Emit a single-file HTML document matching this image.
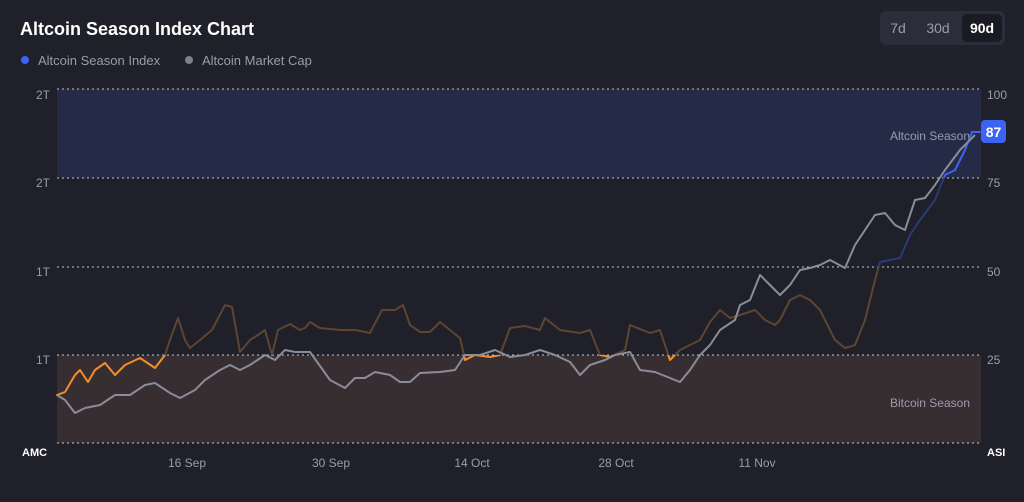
<!DOCTYPE html>
<html><head><meta charset="utf-8"><style>
body{margin:0;width:1024px;height:497px;background:#1f2029;font-family:"Liberation Sans",sans-serif;overflow:hidden}
</style></head><body>
<svg width="1024" height="497" xmlns="http://www.w3.org/2000/svg" font-family="Liberation Sans, sans-serif">
<rect width="1024" height="497" fill="#1f2029"/>
<text x="20" y="35" fill="#fff" font-size="18" font-weight="bold">Altcoin Season Index Chart</text>
<circle cx="25" cy="60" r="4" fill="#3d63f5"/>
<text x="38" y="65" fill="#9a9cac" font-size="13">Altcoin Season Index</text>
<circle cx="189" cy="60" r="4" fill="#7c7f90"/>
<text x="202" y="65" fill="#9a9cac" font-size="13">Altcoin Market Cap</text>
<rect x="880" y="11" width="125" height="34" rx="6" fill="#2b2d3a"/>
<rect x="962" y="14" width="40" height="28" rx="5" fill="#1a1b22"/>
<text x="898" y="33" fill="#9a9cac" font-size="14" text-anchor="middle">7d</text>
<text x="938" y="33" fill="#9a9cac" font-size="14" text-anchor="middle">30d</text>
<text x="982" y="33" fill="#fff" font-size="14" font-weight="bold" text-anchor="middle">90d</text>
<rect x="57" y="89" width="924" height="89" fill="#252a47"/>
<rect x="57" y="355" width="924" height="88" fill="#372e31"/>
<g stroke="#c8c8d0" stroke-dasharray="2 3" stroke-width="1">
<line x1="57" y1="89" x2="981" y2="89"/><line x1="57" y1="178" x2="981" y2="178"/>
<line x1="57" y1="267" x2="981" y2="267"/><line x1="57" y1="355" x2="981" y2="355"/>
<line x1="57" y1="443" x2="981" y2="443"/></g>
<g fill="#9a9cac" font-size="12">
<text x="50" y="99" text-anchor="end">2T</text><text x="50" y="187" text-anchor="end">2T</text>
<text x="50" y="276" text-anchor="end">1T</text><text x="50" y="364" text-anchor="end">1T</text>
<text x="987" y="99">100</text><text x="987" y="187">75</text><text x="987" y="276">50</text><text x="987" y="364">25</text>
<text x="187" y="467" text-anchor="middle">16 Sep</text><text x="331" y="467" text-anchor="middle">30 Sep</text>
<text x="472" y="467" text-anchor="middle">14 Oct</text><text x="616" y="467" text-anchor="middle">28 Oct</text>
<text x="757" y="467" text-anchor="middle">11 Nov</text>
<text x="970" y="140" text-anchor="end" font-size="12">Altcoin Season</text>
<text x="970" y="407" text-anchor="end" font-size="12">Bitcoin Season</text>
</g>
<text x="22" y="456" fill="#fff" font-size="11" font-weight="bold">AMC</text>
<text x="987" y="456" fill="#fff" font-size="11" font-weight="bold">ASI</text>
<defs>
<clipPath id="cLow"><rect x="0" y="355" width="1024" height="200"/></clipPath>
<clipPath id="cMid"><rect x="0" y="267" width="1024" height="88"/></clipPath>
<clipPath id="cBlue"><rect x="0" y="178" width="1024" height="89"/></clipPath>
<clipPath id="cHigh"><rect x="0" y="0" width="1024" height="178"/></clipPath>
<polyline id="idx" fill="none" stroke-width="2" stroke-linejoin="round" stroke-linecap="round" points="57,395 65,392 75,375 80,370 88,382 95,370 105,363 115,375 125,365 140,358 155,368 165,355 170,340 178,318 185,340 190,348 200,340 212,330 225,305 232,307 240,352 250,340 258,335 265,330 272,355 278,330 290,324 300,330 305,328 310,322 320,328 340,330 355,330 370,333 382,310 395,310 403,305 410,325 420,332 430,332 440,322 450,330 460,338 465,360 475,355 490,357 500,355 510,328 525,326 540,330 545,318 560,330 580,333 590,330 600,355 610,357 625,350 630,325 650,333 660,330 670,360 680,350 700,340 710,322 720,310 730,318 740,315 755,310 765,320 775,325 780,320 790,300 800,295 810,300 820,310 835,340 845,348 855,345 865,320 875,280 880,262 890,260 900,258 910,235 920,220 935,200 945,175 955,170 965,150 972,132 980,132"/>
</defs>
<use href="#idx" stroke="#f28f2c" clip-path="url(#cLow)"/>
<use href="#idx" stroke="#5e4531" clip-path="url(#cMid)"/>
<use href="#idx" stroke="#2a3a78" clip-path="url(#cBlue)"/>
<use href="#idx" stroke="#3d63f5" clip-path="url(#cHigh)"/>
<polyline fill="none" stroke="#8a8c9a" stroke-width="2" stroke-linejoin="round" points="57,395 65,400 75,413 85,408 100,405 115,395 130,395 145,385 155,383 170,393 180,398 195,390 205,380 220,370 230,365 240,370 250,365 265,355 275,360 285,350 295,352 310,352 330,380 345,388 355,378 365,378 375,372 390,375 400,382 410,382 420,373 440,372 455,370 465,355 480,355 495,350 510,357 525,355 540,350 555,355 570,362 580,375 590,365 605,360 615,355 630,352 640,370 655,372 670,378 680,382 690,370 700,355 710,345 720,330 735,320 740,305 750,300 760,275 770,285 780,295 790,285 800,270 810,268 820,265 830,260 845,268 855,245 865,230 875,215 885,213 895,225 905,230 915,200 925,198 935,185 945,170 960,150 975,135"/>
<rect x="981" y="120" width="25" height="23" rx="4" fill="#3d63f5"/>
<text x="993.5" y="137" fill="#fff" font-size="14" font-weight="bold" text-anchor="middle">87</text>
</svg>
</body></html>
